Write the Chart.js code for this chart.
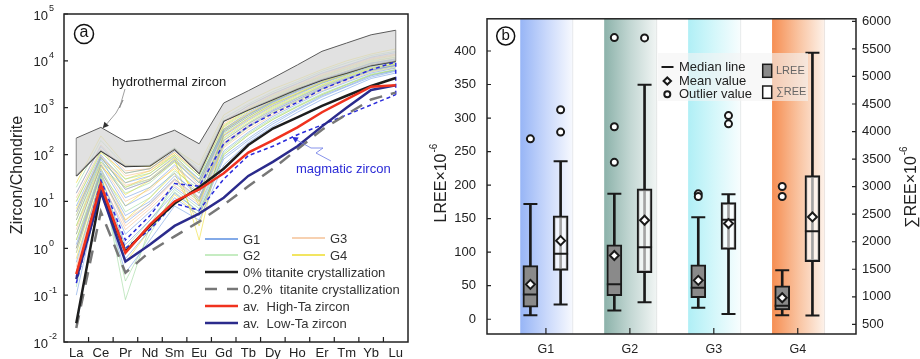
<!DOCTYPE html>
<html>
<head>
<meta charset="utf-8">
<script src="https://cdn.jsdelivr.net/npm/chart.js@4.4.1/dist/chart.umd.min.js"></script>
<style>
  body { margin: 0; background: #fff; }
  #wrap { position: relative; width: 920px; height: 359px; }
  canvas { position: absolute; top: 0; }
  #chartA { left: 0; }
  #chartB { left: 420px; }
</style>
</head>
<body>
<div id="wrap">
  <canvas id="chartA" width="420" height="359"></canvas>
  <canvas id="chartB" width="500" height="359"></canvas>
</div>
<script>
const FONT = '"Liberation Sans", Arial, sans-serif'
Chart.defaults.font.family = FONT
Chart.defaults.color = '#222'

// ---------- (a) chondrite-normalised REE patterns ----------
const elements = ['La', 'Ce', 'Pr', 'Nd', 'Sm', 'Eu', 'Gd', 'Tb', 'Dy', 'Ho', 'Er', 'Tm', 'Yb', 'Lu']
const decades = [-2, -1, 0, 1, 2, 3, 4, 5]

const g1Samples = [
  [2, 60, 8, 15, 40, 12, 200, 450, 900, 1600, 2800, 4300, 6500, 8000],
  [0.5, 30, 2, 6, 20, 8, 120, 300, 650, 1200, 2200, 3500, 5500, 7000],
  [8, 100, 25, 35, 90, 30, 350, 800, 1500, 2500, 4200, 6000, 9000, 11000],
  [0.02, 20, 0.3, 1.5, 8, 4, 60, 180, 400, 800, 1500, 2500, 4200, 5500],
  [15, 150, 40, 50, 120, 45, 500, 1100, 2000, 3300, 5500, 8000, 12000, 15000],
  [1.2, 45, 5, 10, 35, 15, 250, 550, 1100, 1900, 3300, 5000, 7500, 9500],
  [4, 80, 12, 20, 60, 20, 300, 650, 1300, 2200, 3700, 5500, 8200, 10000],
  [0.3, 25, 1.2, 4, 15, 6, 90, 220, 500, 950, 1800, 2900, 4800, 6200],
  [0.1, 22, 0.6, 2.5, 12, 5, 80, 200, 450, 900, 1700, 2800, 4500, 6000],
  [6, 90, 18, 28, 75, 25, 320, 700, 1350, 2300, 3900, 5800, 8800, 10500],
  [1, 40, 3.5, 9, 30, 11, 170, 400, 850, 1500, 2600, 4100, 6300, 8000]
]
const g2Samples = [
  [3, 70, 15, 25, 70, 25, 280, 600, 1200, 2000, 3400, 5200, 7800, 9500],
  [0.8, 40, 0.08, 3, 25, 10, 150, 380, 800, 1400, 2500, 4000, 6000, 7500],
  [10, 120, 30, 40, 100, 35, 400, 900, 1700, 2800, 4600, 6800, 10000, 12000],
  [1.5, 50, 6, 12, 45, 18, 220, 480, 1000, 1700, 3000, 4600, 7000, 8500],
  [20, 200, 55, 60, 140, 50, 600, 1200, 2200, 3600, 6000, 9000, 13000, 16000],
  [0.15, 35, 1, 4, 18, 7, 110, 280, 600, 1100, 2000, 3200, 5200, 6500],
  [5, 85, 20, 30, 80, 30, 330, 720, 1400, 2400, 4000, 6000, 9000, 11000],
  [0.3, 26, 0.2, 2, 16, 6, 100, 260, 560, 1050, 1900, 3100, 5000, 6400]
]
const g3Samples = [
  [5, 90, 18, 28, 75, 22, 320, 700, 1350, 2300, 3900, 5800, 8600, 10500],
  [1, 50, 4, 9, 30, 12, 180, 420, 850, 1500, 2700, 4200, 6500, 8000],
  [12, 130, 35, 45, 110, 40, 450, 1000, 1900, 3000, 5000, 7500, 11000, 13500],
  [2.5, 65, 10, 18, 55, 20, 260, 580, 1150, 2000, 3400, 5200, 7800, 9500],
  [0.4, 28, 2.5, 7, 22, 9, 140, 340, 700, 1300, 2300, 3700, 5800, 7200],
  [6, 95, 22, 30, 80, 28, 350, 750, 1450, 2400, 4000, 6000, 9000, 11000],
  [0.8, 38, 3, 8, 28, 10, 160, 380, 780, 1400, 2500, 4000, 6200, 7800],
  [15, 160, 45, 50, 120, 45, 520, 1100, 2000, 3200, 5300, 7800, 11500, 14000]
]
const g4Samples = [
  [3, 55, 20, 35, 85, 1.5, 300, 650, 1250, 2100, 3600, 5400, 8000, 10000],
  [7, 85, 30, 45, 100, 25, 380, 850, 1600, 2700, 4400, 6500, 9500, 12000],
  [1.5, 40, 8, 20, 50, 15, 230, 520, 1050, 1800, 3100, 4800, 7200, 8800],
  [25, 250, 60, 55, 130, 60, 700, 1400, 2500, 4000, 6500, 10000, 14000, 18000],
  [0.6, 30, 0.5, 2.5, 14, 5, 100, 260, 560, 1050, 1900, 3100, 5000, 6500],
  [10, 110, 40, 50, 110, 35, 420, 950, 1800, 2900, 4800, 7200, 10500, 13000],
  [2, 60, 14, 28, 70, 10, 260, 600, 1200, 2000, 3500, 5300, 8000, 9800],
  [4, 70, 25, 40, 95, 8, 340, 750, 1400, 2400, 4000, 6000, 8800, 11000],
  [1, 35, 4, 12, 40, 3, 200, 460, 950, 1650, 2900, 4500, 6800, 8500]
]

const hydroUpper = [225, 380, 190, 214, 330, 170, 1260, 2300, 4300, 8200, 16000, 24000, 36000, 45000]
const hydroLower = [35, 120, 56, 58, 130, 40, 520, 900, 1500, 2500, 3900, 5500, 8000, 9800]
const magmaUpper = [0.25, 28, 1.5, 5, 24, 21, 170, 400, 750, 1300, 2500, 4000, 6500, 9500]
const magmaLower = [0.18, 18, 1.0, 2.5, 9, 6.5, 30, 95, 150, 265, 430, 700, 1150, 1900]
const titanite0 = [0.025, 16, 0.85, 3, 9, 20, 50, 160, 360, 620, 1100, 1800, 2900, 4300]
const titanite02 = [0.02, 6, 0.3, 0.85, 1.8, 3.7, 8.5, 21, 50, 130, 340, 720, 1500, 2100]
const highTa = [0.28, 23, 0.8, 3.2, 10, 18, 40, 110, 200, 380, 800, 1500, 2800, 3000]
const lowTa = [0.22, 16, 0.52, 1.2, 3, 5.5, 12, 35, 70, 150, 400, 1000, 2400, 3000]

const g1Color = 'rgba(95,145,225,0.75)'
const g2Color = 'rgba(150,215,150,0.8)'
const g3Color = 'rgba(245,185,135,0.8)'
const g4Color = 'rgba(238,222,50,0.85)'

const aSets = []
// field outlines and model curves go first so they stay on top
aSets.push({ data: highTa, borderColor: '#f0321e', borderWidth: 2.5, order: 1 })
aSets.push({ data: lowTa, borderColor: '#2b2b8c', borderWidth: 2.5, order: 2 })
aSets.push({ data: titanite0, borderColor: '#1e1e1e', borderWidth: 2.5, order: 3 })
aSets.push({ data: titanite02, borderColor: '#777', borderWidth: 2.5, borderDash: [13, 9], order: 4 })
aSets.push({ data: magmaUpper, borderColor: '#2b2bdb', borderWidth: 1.5, borderDash: [4, 3], order: 5 })
aSets.push({ data: magmaLower, borderColor: '#2b2bdb', borderWidth: 1.5, borderDash: [4, 3], order: 5 })
aSets.push({ data: [{ x: 'Lu', y: magmaLower[13] }, { x: 'Lu', y: magmaUpper[13] }],
  borderColor: '#2b2bdb', borderWidth: 1.5, borderDash: [4, 3], order: 5 })
aSets.push({ data: hydroUpper, borderColor: '#5a5a5a', borderWidth: 1, fill: '+1',
  backgroundColor: 'rgba(214,214,214,0.72)', order: 8 })
aSets.push({ data: hydroLower, borderColor: '#333', borderWidth: 1.5, order: 8 })
aSets.push({ data: [{ x: 'La', y: hydroLower[0] }, { x: 'La', y: hydroUpper[0] }], borderColor: '#666', borderWidth: 1, order: 8 })
aSets.push({ data: [{ x: 'Lu', y: hydroLower[13] }, { x: 'Lu', y: hydroUpper[13] }], borderColor: '#666', borderWidth: 1, order: 8 })

const addSamples = (rows, color) => rows.forEach(r => aSets.push({ data: r, borderColor: color, borderWidth: 0.7, order: 20 }))
addSamples(g1Samples, g1Color)
addSamples(g2Samples, g2Color)
addSamples(g3Samples, g3Color)
addSamples(g4Samples, g4Color)

const legendA = [
  { label: 'G1', color: '#5a8ee0', x: 205, y: 239, w: 1.3 },
  { label: 'G3', color: '#f5c297', x: 292, y: 238, w: 1.3 },
  { label: 'G2', color: '#b3e6ae', x: 205, y: 255, w: 1.3 },
  { label: 'G4', color: '#eedc2c', x: 292, y: 255, w: 1.3 },
  { label: '0% titanite crystallization', color: '#1e1e1e', x: 205, y: 272, w: 2.5 },
  { label: '0.2%  titanite crystallization', color: '#777', x: 205, y: 289, w: 2.5, dash: [12, 10] },
  { label: 'av.  High-Ta zircon', color: '#f0321e', x: 205, y: 306, w: 2.5 },
  { label: 'av.  Low-Ta zircon', color: '#2b2b8c', x: 205, y: 323, w: 2.5 }
]

const arrowHead = (ctx, x, y, ang, size, color) => {
  ctx.save()
  ctx.translate(x, y); ctx.rotate(ang)
  ctx.fillStyle = color
  ctx.beginPath(); ctx.moveTo(0, 0); ctx.lineTo(size, -size / 2); ctx.lineTo(size, size / 2); ctx.closePath(); ctx.fill()
  ctx.restore()
}

const panelA = {
  id: 'panelA',
  afterDraw (chart) {
    const { ctx, chartArea: a, scales: { x, y } } = chart
    ctx.save()
    ctx.strokeStyle = '#222'
    ctx.lineWidth = 1.5
    ctx.strokeRect(a.left, a.top, a.right - a.left, a.bottom - a.top)

    // inward tick marks
    ctx.lineWidth = 1.2
    ctx.beginPath()
    for (let i = 0; i < elements.length - 1; i++) {
      const px = (x.getPixelForTick(i) + x.getPixelForTick(i + 1)) / 2
      ctx.moveTo(px, a.bottom); ctx.lineTo(px, a.bottom - 5)
    }
    decades.forEach(e => {
      const py = y.getPixelForValue(Math.pow(10, e))
      ctx.moveTo(a.left, py); ctx.lineTo(a.left + 4, py)
    })
    ctx.stroke()

    // 10^n labels
    ctx.fillStyle = '#222'
    ctx.textBaseline = 'middle'
    decades.forEach(e => {
      const py = y.getPixelForValue(Math.pow(10, e))
      ctx.font = '13px ' + FONT; ctx.textAlign = 'right'
      ctx.fillText('10', 48, py + 2)
      ctx.font = '9px ' + FONT; ctx.textAlign = 'left'
      ctx.fillText(String(e), 49, py - 5)
    })

    // axis title
    ctx.save()
    ctx.translate(18, 175); ctx.rotate(-Math.PI / 2)
    ctx.font = '16px ' + FONT; ctx.textAlign = 'center'
    ctx.fillText('Zircon/Chondrite', 0, 0)
    ctx.restore()

    // legend
    ctx.font = '13px ' + FONT
    ctx.textAlign = 'left'
    legendA.forEach(it => {
      ctx.strokeStyle = it.color; ctx.lineWidth = it.w
      ctx.setLineDash(it.dash || [])
      ctx.beginPath(); ctx.moveTo(it.x, it.y); ctx.lineTo(it.x + 33, it.y); ctx.stroke()
      ctx.fillStyle = '#333'
      ctx.fillText(it.label, it.x + 38, it.y + 1)
    })
    ctx.setLineDash([])

    // field labels with leaders
    ctx.fillStyle = '#222'
    ctx.fillText('hydrothermal zircon', 112, 82)
    ctx.strokeStyle = '#888'; ctx.lineWidth = 0.8
    ctx.beginPath()
    ctx.moveTo(125, 89); ctx.lineTo(119.5, 108); ctx.lineTo(123, 100); ctx.lineTo(116, 113); ctx.lineTo(105, 126)
    ctx.stroke()
    arrowHead(ctx, 102.7, 128.3, -0.85, 6, '#333')

    ctx.fillStyle = '#2b2bd6'
    ctx.fillText('magmatic zircon', 296, 169)
    ctx.strokeStyle = '#6b78e6'
    ctx.beginPath()
    ctx.moveTo(331, 161); ctx.lineTo(316, 153); ctx.lineTo(323, 148); ctx.lineTo(311, 148); ctx.lineTo(295, 139)
    ctx.stroke()
    arrowHead(ctx, 292, 137, 0.55, 6, '#2b2bd6')

    // panel letter
    ctx.strokeStyle = '#111'; ctx.lineWidth = 1.5
    ctx.beginPath(); ctx.arc(84, 34, 9.5, 0, Math.PI * 2); ctx.stroke()
    ctx.fillStyle = '#111'; ctx.font = '16px ' + FONT; ctx.textAlign = 'center'
    ctx.fillText('a', 84, 33)
    ctx.restore()
  }
}

new Chart(document.getElementById('chartA'), {
  type: 'line',
  data: { labels: elements, datasets: aSets },
  options: {
    responsive: false,
    animation: false,
    events: [],
    layout: { padding: { top: 14, right: 12, left: 0, bottom: 0 } },
    elements: { point: { radius: 0 }, line: { tension: 0, fill: false } },
    plugins: { legend: { display: false }, tooltip: { enabled: false } },
    scales: {
      x: {
        type: 'category',
        offset: true,
        grid: { display: false, drawTicks: false },
        border: { display: false },
        ticks: { font: { size: 13 }, color: '#222', padding: 4, autoSkip: false, maxRotation: 0 },
        afterFit: s => { s.height = 17 }
      },
      y: {
        type: 'logarithmic',
        min: 0.01,
        max: 100000,
        grid: { display: false, drawTicks: false },
        border: { display: false },
        ticks: { display: false },
        afterBuildTicks: s => { s.ticks = decades.map(e => ({ value: Math.pow(10, e) })) },
        afterFit: s => { s.width = 64 }
      }
    }
  },
  plugins: [panelA]
})

// ---------- (b) LREE and total REE box plots ----------
const groups = ['G1', 'G2', 'G3', 'G4']
const lreeLow = [6, 13, 17, 6]
const lreeQ1 = [18, 35, 32, 14]
const lreeMedian = [37, 52, 47, 20]
const lreeQ3 = [80, 111, 81, 50]
const lreeHigh = [172, 187, 152, 73]
const lreeMean = [52, 95, 58, 32]
const lreeOutliers = [[269], [420, 287, 234], [187, 183], [198, 183]]

const sreeLow = [860, 900, 690, 660]
const sreeQ1 = [1480, 1440, 1860, 1640]
const sreeMedian = [1780, 1900, 2400, 2190]
const sreeQ3 = [2470, 2960, 2710, 3200]
const sreeHigh = [3460, 4850, 2860, 5430]
const sreeMean = [2020, 2390, 2330, 2450]
const sreeOutliers = [[4395, 3990], [5700], [4290, 4140], []]

const lreeTicks = [0, 50, 100, 150, 200, 250, 300, 350, 400]
const sreeTicks = [500, 1000, 1500, 2000, 2500, 3000, 3500, 4000, 4500, 5000, 5500, 6000]

const INK = '#1a1a1a'
const at = (i, off) => i + 1 + off

const boxSets = (axis, off, low, q1, med, q3, high, mean, outliers, fill) => [
  { type: 'scatter', yAxisID: axis, order: 1,
    data: outliers.flatMap((arr, i) => arr.map(v => ({ x: at(i, off), y: v }))),
    pointStyle: 'circle', pointRadius: 3.5, pointBackgroundColor: '#fff', pointBorderColor: INK, pointBorderWidth: 2 },
  { type: 'scatter', yAxisID: axis, order: 1,
    data: mean.map((v, i) => ({ x: at(i, off), y: v })),
    pointStyle: 'rectRot', pointRadius: 4.5, pointBackgroundColor: '#fff', pointBorderColor: INK, pointBorderWidth: 2 },
  { type: 'scatter', yAxisID: axis, order: 2,
    data: med.map((v, i) => ({ x: at(i, off), y: v })),
    pointStyle: 'line', pointRadius: 7.5, pointBorderColor: INK, pointBorderWidth: 2 },
  { type: 'scatter', yAxisID: axis, order: 2,
    data: low.flatMap((v, i) => [{ x: at(i, off), y: v }, { x: at(i, off), y: high[i] }]),
    pointStyle: 'line', pointRadius: 7, pointBorderColor: INK, pointBorderWidth: 2 },
  { type: 'bar', yAxisID: axis, order: 3, grouped: false, barThickness: 15,
    data: q1.map((v, i) => ({ x: at(i, off), y: [v, q3[i]] })),
    backgroundColor: fill, borderColor: INK, borderWidth: 2, borderSkipped: false },
  { type: 'bar', yAxisID: axis, order: 4, grouped: false, barThickness: 2,
    data: low.map((v, i) => ({ x: at(i, off), y: [v, high[i]] })),
    backgroundColor: INK }
]

const bSets = [
  ...boxSets('yL', -0.185, lreeLow, lreeQ1, lreeMedian, lreeQ3, lreeHigh, lreeMean, lreeOutliers, '#8a8a8a'),
  ...boxSets('yR', 0.175, sreeLow, sreeQ1, sreeMedian, sreeQ3, sreeHigh, sreeMean, sreeOutliers, 'rgba(255,255,255,0.6)')
]

const bandColors = [
  ['#97b5f6', '#c9d8fb', '#f7f9fe'],
  ['#8cb2aa', '#c3d7d3', '#f1f5f4'],
  ['#b0eff6', '#d4f7fa', '#f8fdfe'],
  ['#f68e52', '#f9c3a0', '#fdf2ea']
]

const vText = (ctx, x, y, main, sup, size) => {
  ctx.save()
  ctx.translate(x, y); ctx.rotate(-Math.PI / 2)
  ctx.font = size + 'px ' + FONT
  const w1 = ctx.measureText(main).width
  ctx.font = Math.round(size * 0.6) + 'px ' + FONT
  const w2 = ctx.measureText(sup).width
  const x0 = -(w1 + w2 + 1) / 2
  ctx.textAlign = 'left'; ctx.textBaseline = 'middle'
  ctx.font = size + 'px ' + FONT
  ctx.fillText(main, x0, 0)
  ctx.font = Math.round(size * 0.6) + 'px ' + FONT
  ctx.fillText(sup, x0 + w1 + 1, -size * 0.45)
  ctx.restore()
}

const panelB = {
  id: 'panelB',
  beforeDatasetsDraw (chart) {
    const { ctx, chartArea: a, scales: { x } } = chart
    ctx.save()
    groups.forEach((g, i) => {
      const x0 = x.getPixelForValue(i + 1 - 0.306)
      const x1 = x.getPixelForValue(i + 1 + 0.32)
      const grad = ctx.createLinearGradient(x0, 0, x1, 0)
      grad.addColorStop(0, bandColors[i][0])
      grad.addColorStop(0.5, bandColors[i][1])
      grad.addColorStop(1, bandColors[i][2])
      ctx.fillStyle = grad
      ctx.fillRect(x0, a.top, x1 - x0, a.bottom - a.top)
      ctx.strokeStyle = 'rgba(0,0,0,0.08)'; ctx.lineWidth = 1
      ctx.beginPath(); ctx.moveTo(x1, a.top); ctx.lineTo(x1, a.bottom); ctx.stroke()
    })
    ctx.restore()
  },
  afterDraw (chart) {
    const { ctx, chartArea: a, scales: { x, yL, yR } } = chart
    ctx.save()
    ctx.strokeStyle = '#222'
    ctx.lineWidth = 1.5
    ctx.strokeRect(a.left, a.top, a.right - a.left, a.bottom - a.top)

    ctx.lineWidth = 1.2
    ctx.beginPath()
    lreeTicks.forEach(v => { const py = yL.getPixelForValue(v); ctx.moveTo(a.left, py); ctx.lineTo(a.left + 4, py) })
    sreeTicks.forEach(v => { const py = yR.getPixelForValue(v); ctx.moveTo(a.right, py); ctx.lineTo(a.right - 4, py) })
    groups.forEach((g, i) => { const px = x.getPixelForValue(i + 1); ctx.moveTo(px, a.bottom); ctx.lineTo(px, a.bottom - 6) })
    ctx.stroke()

    ctx.fillStyle = '#222'
    vText(ctx, 21.7, 183, 'LREE×10', '-6', 16)
    vText(ctx, 491.7, 187, '∑REE×10', '-6', 16)

    // legend
    ctx.fillStyle = 'rgba(244,244,244,0.6)'
    ctx.fillRect(238, 53, 150, 48)
    ctx.strokeStyle = INK; ctx.lineWidth = 2
    ctx.beginPath(); ctx.moveTo(241.5, 67); ctx.lineTo(253.5, 67); ctx.stroke()
    ctx.fillStyle = '#fff'
    ctx.beginPath(); ctx.moveTo(247.3, 77.5); ctx.lineTo(251, 81); ctx.lineTo(247.3, 84.5); ctx.lineTo(243.6, 81); ctx.closePath()
    ctx.fill(); ctx.stroke()
    ctx.beginPath(); ctx.arc(247.3, 94.3, 3, 0, Math.PI * 2); ctx.fill(); ctx.stroke()
    ctx.fillStyle = '#222'; ctx.font = '13px ' + FONT; ctx.textAlign = 'left'; ctx.textBaseline = 'middle'
    ctx.fillText('Median line', 259, 67)
    ctx.fillText('Mean value', 259, 81)
    ctx.fillText('Outlier value', 259, 94.5)
    ctx.lineWidth = 1.5
    ctx.fillStyle = '#8a8a8a'
    ctx.fillRect(342.7, 64.3, 9, 13); ctx.strokeRect(342.7, 64.3, 9, 13)
    ctx.fillStyle = '#fff'
    ctx.fillRect(342.7, 86, 9, 12.3); ctx.strokeRect(342.7, 86, 9, 12.3)
    ctx.fillStyle = '#666'; ctx.font = '11px ' + FONT
    ctx.fillText('LREE', 356, 71)
    ctx.fillText('∑REE', 356, 92)

    // panel letter
    ctx.strokeStyle = '#111'; ctx.lineWidth = 1.5
    ctx.beginPath(); ctx.arc(85.7, 36, 9, 0, Math.PI * 2); ctx.stroke()
    ctx.fillStyle = '#111'; ctx.font = '15px ' + FONT; ctx.textAlign = 'center'
    ctx.fillText('b', 85.7, 35.5)
    ctx.restore()
  }
}

new Chart(document.getElementById('chartB'), {
  type: 'bar',
  data: { datasets: bSets },
  options: {
    responsive: false,
    animation: false,
    events: [],
    layout: { padding: { top: 17, right: 0, left: 0, bottom: 0 } },
    plugins: { legend: { display: false }, tooltip: { enabled: false } },
    scales: {
      x: {
        type: 'linear',
        offset: false,
        min: 0.298,
        max: 4.694,
        grid: { display: false, drawTicks: false },
        border: { display: false },
        afterBuildTicks: s => { s.ticks = groups.map((g, i) => ({ value: i + 1 })) },
        ticks: { callback: (v, i) => groups[i], font: { size: 12.5 }, color: '#222', padding: 8 },
        afterFit: s => { s.height = 25 }
      },
      yL: {
        position: 'left',
        min: -22,
        max: 448,
        grid: { display: false, drawTicks: false },
        border: { display: false },
        afterBuildTicks: s => { s.ticks = lreeTicks.map(v => ({ value: v })) },
        ticks: { callback: v => String(v), font: { size: 13 }, color: '#222', padding: 11 },
        afterFit: s => { s.width = 67 }
      },
      yR: {
        position: 'right',
        min: 325,
        max: 6047,
        grid: { display: false, drawTicks: false },
        border: { display: false },
        afterBuildTicks: s => { s.ticks = sreeTicks.map(v => ({ value: v })) },
        ticks: { callback: v => String(v), font: { size: 13 }, color: '#222', padding: 6 },
        afterFit: s => { s.width = 64 }
      }
    }
  },
  plugins: [panelB]
})
</script>
</body>
</html>
